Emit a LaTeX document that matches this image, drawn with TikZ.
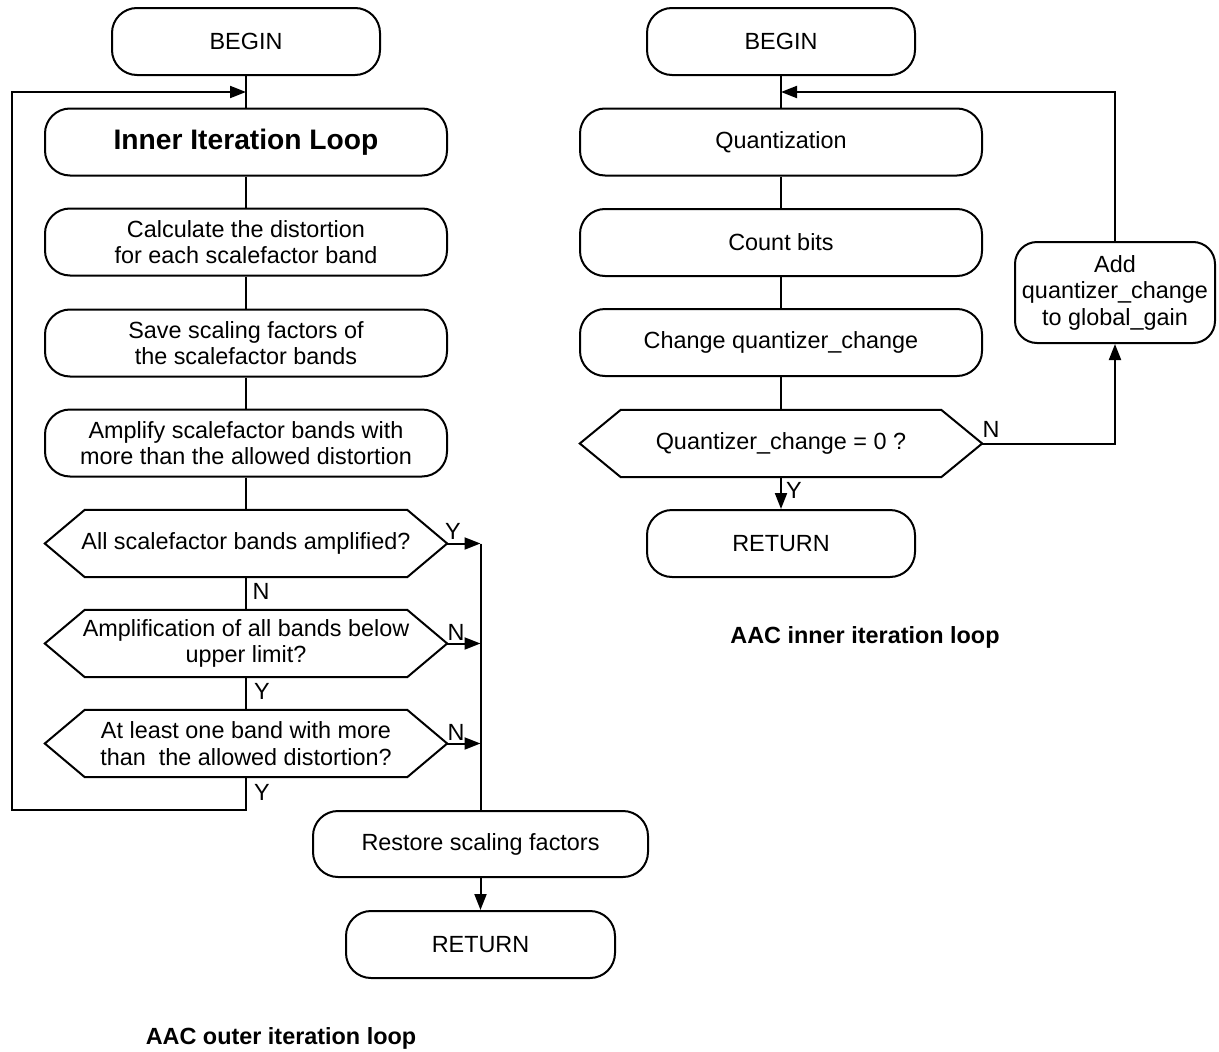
\documentclass[tikz,border=0pt]{standalone}
\usepackage{fontspec}
\setmainfont{Liberation Sans}
\usetikzlibrary{arrows.meta,calc}
\newcommand\mainsize{\fontsize{23.4}{26.5}\selectfont}
% hexagonal decision outline around a (borderless) node: #1 node, #2 tip depth
\newcommand\hexoutline[2]{%
  \draw[flowline] ($(#1.north west)+(#2,0)$) -- ($(#1.north east)+(-#2,0)$)
    -- (#1.east) -- ($(#1.south east)+(-#2,0)$)
    -- ($(#1.south west)+(#2,0)$) -- (#1.west) -- cycle;}
\begin{document}
\begin{tikzpicture}[x=1pt,y=-1pt,
  flowline/.style={line width=2pt},
  arrowline/.style={flowline,-{Triangle[length=16pt,width=12pt]}},
  procbox/.style={draw,line width=2pt,rounded corners=25pt,minimum width=402pt,
    minimum height=67pt,inner sep=0pt,align=center,font=\mainsize},
  termbox/.style={procbox,minimum width=268pt},
  decision/.style={inner sep=0pt,minimum width=402pt,minimum height=67pt,
    align=center,font=\mainsize},
  flag/.style={font=\mainsize,inner sep=0pt},
  caption/.style={font=\mainsize\bfseries,inner sep=0pt}]
\useasboundingbox (0,0) rectangle (1219,1052);

% ---------- outer iteration loop ----------
\node[termbox] (lbegin) at (246,41.5) {BEGIN};
\node[procbox,font=\fontsize{28.2}{32}\selectfont\bfseries] (inner) at (246,142) {Inner Iteration Loop};
\node[procbox] (calc) at (246,242) {Calculate the distortion\\for each scalefactor band};
\node[procbox] (save) at (246,343) {Save scaling factors of\\the scalefactor bands};
\node[procbox] (ampl) at (246,443) {Amplify scalefactor bands with\\more than the allowed distortion};
\node[decision] (h1) at (246,543.5) {All scalefactor bands amplified?};
\node[decision] (h2) at (246,643.5) {Amplification of all bands below\\upper limit?};
\node[decision] (h3) at (246,743.5) {At least one band with more\\than\ \ the allowed distortion?};
\hexoutline{h1}{40}
\hexoutline{h2}{40}
\hexoutline{h3}{40}
\node[procbox,minimum width=335pt,minimum height=66pt] (restore) at (480.5,844) {Restore scaling factors};
\node[termbox,minimum width=269pt] (lreturn) at (480.5,944.5) {RETURN};
\node[caption] (lcap) at (281,1038) {AAC outer iteration loop};

\draw[flowline] (lbegin) -- (inner);
\draw[flowline] (inner) -- (calc);
\draw[flowline] (calc) -- (save);
\draw[flowline] (save) -- (ampl);
\draw[flowline] (ampl) -- (h1);
\draw[flowline] (h1) -- (h2);
\draw[flowline] (h2) -- (h3);

% loop back to the inner iteration loop
\coordinate (loopin) at (246,92);
\coordinate (loopa) at (246,810);
\coordinate (loopb) at (12,810);
\coordinate (loopc) at (12,92);
\draw[arrowline] (h3.south) -- (loopa) -- (loopb) -- (loopc) -- (loopin);

% exits to the restore step
\coordinate (bus1) at (h1.east -| restore.north);
\coordinate (bus2) at (h2.east -| restore.north);
\coordinate (bus3) at (h3.east -| restore.north);
\draw[arrowline] (h1.east) -- (bus1);
\draw[arrowline] (h2.east) -- (bus2);
\draw[arrowline] (h3.east) -- (bus3);
\draw[flowline] (bus1) -- (restore.north);
\draw[arrowline] (restore) -- (lreturn);

\node[flag] (f1) at (453,531) {Y};
\node[flag] (f2) at (456,632) {N};
\node[flag] (f3) at (456,732) {N};
\node[flag] (f4) at (261,591) {N};
\node[flag] (f5) at (262,691) {Y};
\node[flag] (f6) at (262,792) {Y};

% ---------- inner iteration loop ----------
\node[termbox] (rbegin) at (781,41.5) {BEGIN};
\node[procbox] (quant) at (781,142) {Quantization};
\node[procbox] (count) at (781,242.5) {Count bits};
\node[procbox] (change) at (781,342.5) {Change quantizer\_change};
\node[decision] (rh) at (781,443.5) {Quantizer\_change = 0 ?};
\hexoutline{rh}{41}
\node[termbox] (rreturn) at (781,543.5) {RETURN};
\node[procbox,minimum width=200pt,minimum height=101pt,rounded corners=22pt] (add) at (1115,292.5)
  {Add\\quantizer\_change\\to global\_gain};
\node[caption] (rcap) at (865,637) {AAC inner iteration loop};

\draw[flowline] (rbegin) -- (quant);
\draw[flowline] (quant) -- (count);
\draw[flowline] (count) -- (change);
\draw[flowline] (change) -- (rh);
\draw[arrowline] (rh) -- (rreturn);

\coordinate (rin) at (781,92);
\coordinate (nturn) at (rh.east -| add.south);
\draw[arrowline] (rh.east) -- (nturn) -- (add.south);
\draw[arrowline] (add.north) |- (rin);

\node[flag] (f7) at (991,429) {N};
\node[flag] (f8) at (794,490) {Y};
\end{tikzpicture}
\end{document}
